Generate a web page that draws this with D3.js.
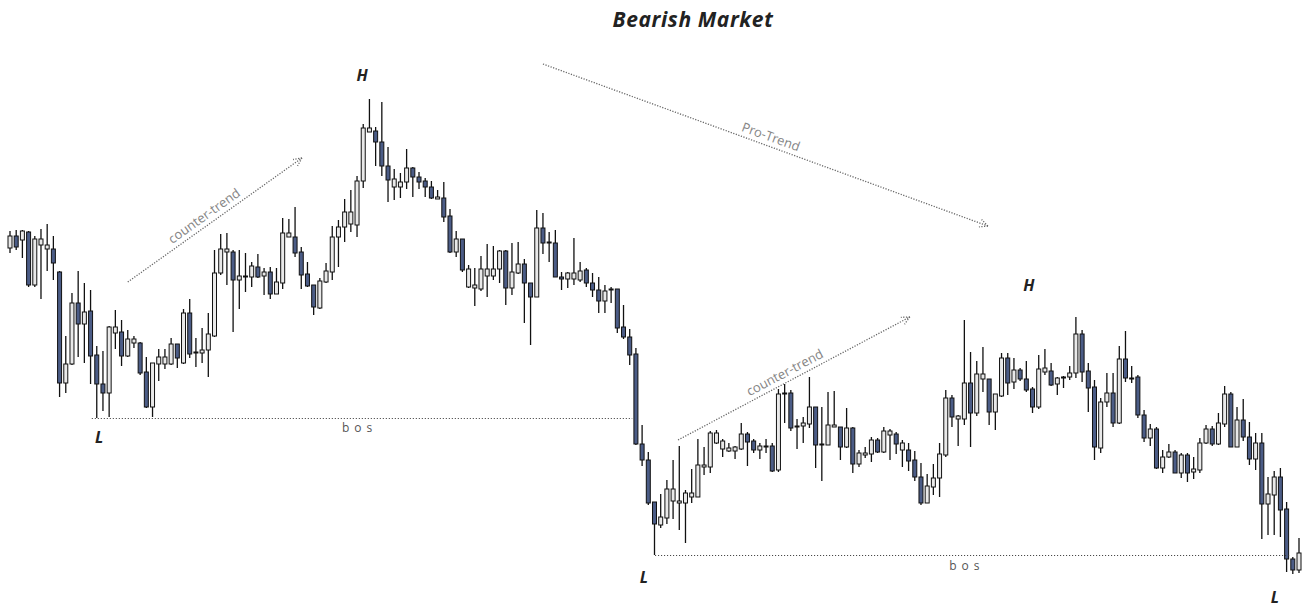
<!DOCTYPE html>
<html><head><meta charset="utf-8">
<script src="https://cdn.jsdelivr.net/npm/d3@7"></script>
<style>html,body{margin:0;padding:0;background:#fff;}svg{display:block;}</style>
</head><body>
<svg id="chart" width="1305" height="607"></svg>
<script>
// OHLC values (arbitrary price units)
const opens = [352,364,360,368,315,355,351,351,328,217,236,297,276,289,245,216,207,267,268,244,257,257,228,193,236,236,236,256,237,287,247,247,250,264,327,348,348,320,323,323,333,324,328,306,317,363,363,348,326,315,292,318,328,363,373,376,375,419,468,469,458,434,413,413,418,432,423,419,413,401,402,384,348,361,313,312,311,324,324,331,349,312,327,336,317,303,372,358,357,323,321,321,320,330,317,310,299,310,311,273,263,246,156,140,98,75,82,99,97,97,103,103,133,133,157,151,149,149,151,166,159,150,153,154,130,206,207,173,174,176,193,155,155,173,173,153,172,136,145,146,160,148,165,166,150,150,140,123,97,113,122,145,202,181,181,217,187,221,221,188,204,242,218,230,221,211,193,228,229,216,222,223,227,266,229,213,152,198,207,177,241,222,223,185,162,171,132,143,148,127,145,128,130,157,171,156,176,206,153,180,163,141,157,96,105,123,91,41,30];
const highs = [369,370,370,369,364,371,376,364,329,264,307,329,317,310,254,249,274,290,280,270,264,258,243,237,251,251,262,256,291,301,262,272,287,350,366,367,350,350,347,338,346,332,333,332,382,381,393,353,338,315,322,337,374,380,401,410,424,476,501,473,498,453,431,427,451,433,428,422,419,410,418,391,369,361,335,332,344,356,354,350,350,357,358,341,317,390,387,368,370,328,328,362,338,332,327,323,315,313,311,295,271,252,175,148,98,106,120,140,154,110,131,161,153,169,170,161,157,154,177,168,161,157,161,157,211,216,210,181,183,223,193,193,208,209,173,192,173,150,153,163,162,173,171,168,160,157,149,137,126,136,157,210,205,185,280,248,239,253,221,206,247,247,242,232,239,213,245,251,237,223,224,234,283,270,237,220,202,227,227,254,269,234,225,190,176,173,150,156,150,147,147,143,162,175,174,187,214,208,193,201,178,167,167,123,129,132,98,43,62];
const lows = [347,350,342,313,313,301,329,320,203,207,235,243,237,216,182,189,183,251,234,243,252,225,192,183,219,231,235,232,236,242,233,237,223,263,325,315,268,291,308,313,322,305,301,306,311,363,343,311,313,285,291,317,320,333,358,368,363,412,468,434,424,398,400,402,411,403,411,403,401,401,378,347,343,328,312,294,309,303,320,317,295,305,326,277,255,303,346,338,323,310,312,315,318,313,303,287,287,297,267,261,235,155,134,95,45,72,76,81,70,57,97,103,125,127,156,143,148,141,150,134,147,141,147,128,128,177,169,151,157,172,132,119,155,173,140,152,127,133,142,138,147,147,140,146,133,129,119,95,97,105,103,143,173,154,175,153,184,208,175,170,203,205,211,219,208,187,191,225,214,205,212,220,222,218,188,140,147,193,173,176,218,217,182,158,154,131,127,142,127,122,118,121,127,156,154,155,173,153,153,159,135,130,61,65,65,63,28,26,27];
const closes = [364,353,369,315,361,361,355,337,217,236,297,276,288,244,216,207,273,273,244,261,261,227,193,237,243,243,256,242,287,246,248,250,266,327,351,351,320,324,324,334,323,328,306,318,367,367,347,325,314,293,319,329,363,373,388,388,419,472,472,458,434,420,421,418,432,423,418,413,402,403,383,348,361,330,331,315,331,331,331,349,312,328,336,317,303,372,357,357,323,321,327,327,329,317,310,299,309,311,272,263,245,156,140,97,76,83,111,111,99,107,107,135,135,167,167,159,152,153,166,158,150,154,154,129,206,207,172,174,177,193,155,156,175,175,153,172,136,147,147,160,148,169,169,156,157,139,123,97,114,122,146,202,183,184,217,187,226,226,188,206,242,217,230,221,210,193,231,232,215,222,223,227,266,228,212,153,198,207,177,241,222,221,185,162,171,132,143,148,127,145,127,131,157,171,156,177,206,153,180,163,141,157,96,106,123,90,41,30,47];

// Annotation anchors, in candle-index / price units
const titleText = "Bearish Market";
const trendArrows = [
  {label: "counter-trend", i0: 19.0, p0: 318, i1: 47.1, p1: 442, t: 0.47},
  {label: "Pro-Trend",     i0: 86.0, p0: 536, i1: 157.8, p1: 374, t: 0.505},
  {label: "counter-trend", i0: 107.8, p0: 160, i1: 145.2, p1: 283, t: 0.48}
];
const bosLines = [
  {i0: 13.2, i1: 100.4, anchor: 14, labelI: 56.4, labelP: 168},
  {i0: 104.1, i1: 206.6, anchor: 104, labelI: 154.4, labelP: 30}
];
const pivotLabels = [
  {text: "H", i: 56.8, p: 519},
  {text: "H", i: 164.4, p: 309},
  {text: "L", i: 14.4, p: 157},
  {text: "L", i: 102.3, p: 17},
  {text: "L", i: 204.1, p: -3}
];

const N = opens.length;
const candles = d3.range(N).map(i => ({i, o: opens[i], h: highs[i], l: lows[i], c: closes[i]}));

const svg = d3.select("#chart");
const x = d3.scaleLinear().domain([0, N - 1]).range([10, 1299]);
const y = d3.scaleLinear().domain([0, 600]).range([600, 0]);

const bodyW = 5;
const g = svg.append("g");

// wicks
g.selectAll("line.wick").data(candles).join("line")
  .attr("class", "wick")
  .attr("x1", d => x(d.i)).attr("x2", d => x(d.i))
  .attr("y1", d => y(d.h)).attr("y2", d => y(d.l))
  .attr("stroke", "#111").attr("stroke-width", 1.3);

// bodies
g.selectAll("rect.body").data(candles).join("rect")
  .attr("class", "body")
  .attr("x", d => x(d.i) - bodyW / 2 + 0.5)
  .attr("width", bodyW - 1)
  .attr("y", d => y(Math.max(d.o, d.c)))
  .attr("height", d => Math.max(1, Math.abs(y(d.o) - y(d.c))))
  .attr("fill", d => d.c >= d.o ? "#e9e9e9" : "#4b5c86")
  .attr("stroke", "#111").attr("stroke-width", 1);

// bos lines
bosLines.forEach(b => {
  const yy = Math.round(y(lows[b.anchor])) + 0.5;
  svg.append("line")
    .attr("x1", x(b.i0)).attr("x2", x(b.i1))
    .attr("y1", yy).attr("y2", yy)
    .attr("stroke", "#333").attr("stroke-width", 1)
    .attr("stroke-dasharray", "1,2");
  svg.append("text")
    .attr("x", x(b.labelI)).attr("y", y(b.labelP))
    .attr("text-anchor", "middle")
    .attr("font-family", "'Open Sans', sans-serif")
    .attr("font-size", 12).attr("fill", "#555")
    .attr("letter-spacing", "5px")
    .text("bos");
});

// trend arrows
trendArrows.forEach(a => {
  const x0 = x(a.i0), y0 = y(a.p0), x1 = x(a.i1), y1 = y(a.p1);
  const ang = Math.atan2(y1 - y0, x1 - x0);
  const style = s => s.attr("stroke", "#666").attr("stroke-width", 1.3).attr("stroke-dasharray", "1.2,1.5").attr("fill", "none");
  style(svg.append("line").attr("x1", x0).attr("y1", y0).attr("x2", x1).attr("y2", y1));
  const hl = 9, spread = 0.45;
  [ang + Math.PI - spread, ang + Math.PI + spread].forEach(b => {
    style(svg.append("line").attr("x1", x1).attr("y1", y1)
      .attr("x2", x1 + hl * Math.cos(b)).attr("y2", y1 + hl * Math.sin(b)));
  });
  const mx = x0 + (x1 - x0) * a.t, my = y0 + (y1 - y0) * a.t;
  const off = 5;
  const px = mx + off * Math.sin(ang), py = my - off * Math.cos(ang);
  svg.append("text")
    .attr("transform", `translate(${px},${py}) rotate(${ang * 180 / Math.PI})`)
    .attr("text-anchor", "middle")
    .attr("font-family", "'Open Sans', sans-serif")
    .attr("font-size", 13).attr("fill", "#858585")
    .text(a.label);
});

// pivot labels
svg.selectAll("text.pivot").data(pivotLabels).join("text")
  .attr("class", "pivot")
  .attr("x", d => x(d.i)).attr("y", d => y(d.p))
  .attr("text-anchor", "middle")
  .attr("font-family", "'Open Sans', sans-serif")
  .attr("font-weight", "bold").attr("font-style", "italic")
  .attr("font-size", 16).attr("fill", "#222")
  .text(d => d.text);

// title
svg.append("text")
  .attr("x", 693).attr("y", 27)
  .attr("text-anchor", "middle")
  .attr("font-family", "'Open Sans', sans-serif")
  .attr("font-weight", "bold").attr("font-style", "italic")
  .attr("font-size", 21).attr("fill", "#222")
  .attr("letter-spacing", "0.6px")
  .text(titleText);
</script>
</body></html>
